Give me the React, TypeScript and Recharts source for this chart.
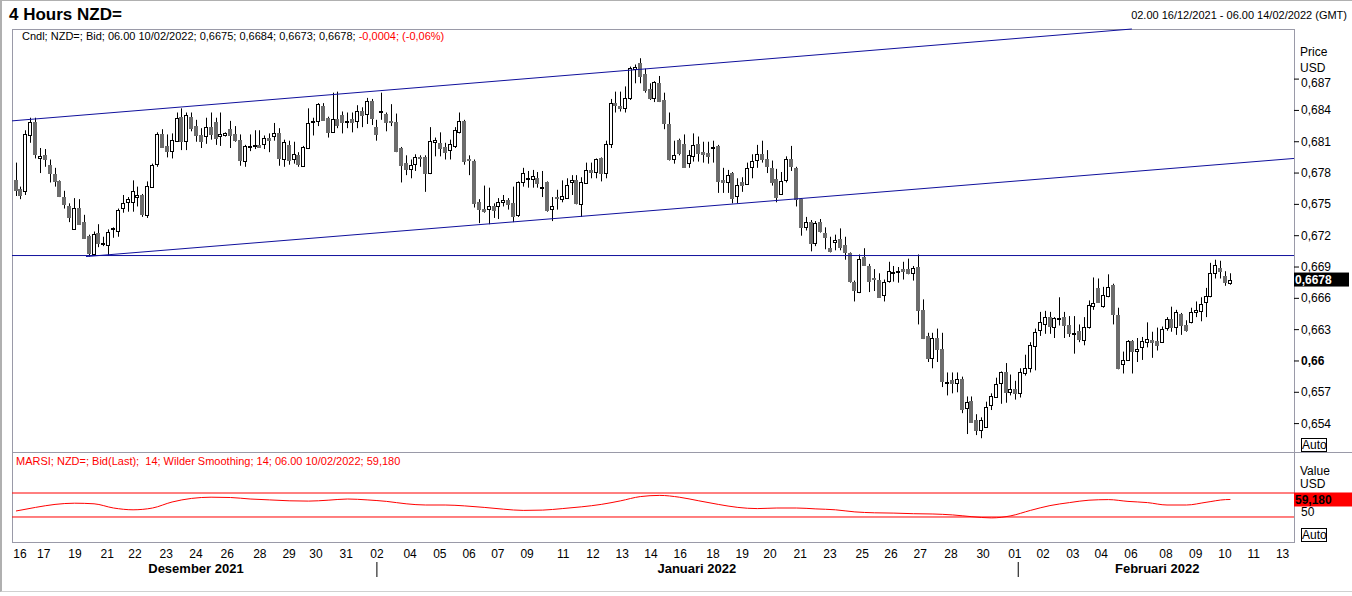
import React from 'react';
import { ComposedChart, LineChart, Bar, Line, XAxis, YAxis, ReferenceLine } from 'recharts';

// 4h candles, NZD= bid: [open, high, low, close]
const candles: [number, number, number, number][] = [
  [0.6773, 0.6790, 0.6758, 0.6763], [0.6765, 0.6767, 0.6755, 0.6759], [0.6762, 0.6821, 0.6759, 0.6817], [0.6817, 0.6833, 0.6809, 0.6829], [0.6829, 0.6833, 0.6794, 0.6798],
  [0.6794, 0.6804, 0.6780, 0.6796], [0.6797, 0.6803, 0.6786, 0.6793], [0.6788, 0.6793, 0.6771, 0.6780], [0.6779, 0.6785, 0.6767, 0.6772], [0.6772, 0.6773, 0.6757, 0.6758],
  [0.6757, 0.6763, 0.6746, 0.6750], [0.6748, 0.6751, 0.6733, 0.6737], [0.6727, 0.6756, 0.6726, 0.6747], [0.6747, 0.6755, 0.6731, 0.6732], [0.6733, 0.6740, 0.6717, 0.6718],
  [0.6720, 0.6721, 0.6700, 0.6704], [0.6703, 0.6724, 0.6702, 0.6722], [0.6723, 0.6731, 0.6709, 0.6713], [0.6712, 0.6719, 0.6710, 0.6713], [0.6712, 0.6726, 0.6701, 0.6724],
  [0.6726, 0.6728, 0.6718, 0.6727], [0.6725, 0.6746, 0.6719, 0.6745], [0.6746, 0.6759, 0.6742, 0.6751], [0.6752, 0.6757, 0.6743, 0.6755], [0.6752, 0.6773, 0.6743, 0.6763],
  [0.6757, 0.6767, 0.6748, 0.6759], [0.6759, 0.6760, 0.6738, 0.6741], [0.6740, 0.6772, 0.6737, 0.6768], [0.6767, 0.6789, 0.6766, 0.6788], [0.6788, 0.6819, 0.6786, 0.6817],
  [0.6817, 0.6822, 0.6804, 0.6805], [0.6806, 0.6817, 0.6795, 0.6801], [0.6801, 0.6818, 0.6794, 0.6812], [0.6811, 0.6838, 0.6810, 0.6833], [0.6834, 0.6842, 0.6802, 0.6811],
  [0.6811, 0.6838, 0.6802, 0.6836], [0.6834, 0.6838, 0.6820, 0.6823], [0.6825, 0.6831, 0.6810, 0.6816], [0.6816, 0.6823, 0.6804, 0.6810], [0.6815, 0.6833, 0.6808, 0.6824],
  [0.6824, 0.6838, 0.6812, 0.6817], [0.6829, 0.6833, 0.6807, 0.6814], [0.6815, 0.6838, 0.6806, 0.6817], [0.6816, 0.6819, 0.6815, 0.6818], [0.6822, 0.6830, 0.6804, 0.6816],
  [0.6817, 0.6825, 0.6810, 0.6811], [0.6812, 0.6817, 0.6787, 0.6793], [0.6792, 0.6807, 0.6786, 0.6806], [0.6806, 0.6817, 0.6801, 0.6806], [0.6806, 0.6821, 0.6803, 0.6807],
  [0.6807, 0.6821, 0.6804, 0.6805], [0.6808, 0.6816, 0.6803, 0.6814], [0.6814, 0.6818, 0.6800, 0.6812], [0.6815, 0.6828, 0.6811, 0.6818], [0.6818, 0.6823, 0.6787, 0.6794],
  [0.6794, 0.6812, 0.6786, 0.6810], [0.6807, 0.6811, 0.6788, 0.6793], [0.6793, 0.6810, 0.6789, 0.6798], [0.6797, 0.6800, 0.6786, 0.6788], [0.6787, 0.6806, 0.6786, 0.6805],
  [0.6804, 0.6842, 0.6803, 0.6828], [0.6829, 0.6833, 0.6816, 0.6830], [0.6830, 0.6847, 0.6825, 0.6846], [0.6844, 0.6847, 0.6830, 0.6831], [0.6833, 0.6834, 0.6814, 0.6820],
  [0.6820, 0.6857, 0.6819, 0.6832], [0.6832, 0.6858, 0.6823, 0.6826], [0.6836, 0.6839, 0.6818, 0.6829], [0.6830, 0.6838, 0.6823, 0.6830], [0.6832, 0.6838, 0.6819, 0.6829],
  [0.6829, 0.6845, 0.6823, 0.6839], [0.6839, 0.6843, 0.6824, 0.6835], [0.6837, 0.6852, 0.6827, 0.6849], [0.6849, 0.6851, 0.6826, 0.6833], [0.6824, 0.6831, 0.6811, 0.6817],
  [0.6838, 0.6857, 0.6831, 0.6839], [0.6837, 0.6838, 0.6820, 0.6829], [0.6830, 0.6846, 0.6825, 0.6829], [0.6829, 0.6837, 0.6800, 0.6801], [0.6804, 0.6805, 0.6771, 0.6788],
  [0.6790, 0.6797, 0.6778, 0.6784], [0.6784, 0.6793, 0.6775, 0.6788], [0.6788, 0.6798, 0.6782, 0.6795], [0.6795, 0.6797, 0.6786, 0.6794], [0.6795, 0.6797, 0.6762, 0.6780],
  [0.6780, 0.6824, 0.6779, 0.6811], [0.6810, 0.6814, 0.6796, 0.6812], [0.6809, 0.6819, 0.6796, 0.6804], [0.6805, 0.6809, 0.6793, 0.6800], [0.6802, 0.6812, 0.6793, 0.6808],
  [0.6806, 0.6824, 0.6804, 0.6821], [0.6819, 0.6838, 0.6818, 0.6830], [0.6830, 0.6831, 0.6788, 0.6792], [0.6793, 0.6797, 0.6778, 0.6792], [0.6792, 0.6793, 0.6747, 0.6752],
  [0.6752, 0.6755, 0.6732, 0.6745], [0.6746, 0.6768, 0.6742, 0.6744], [0.6745, 0.6766, 0.6731, 0.6748], [0.6748, 0.6751, 0.6737, 0.6744], [0.6748, 0.6756, 0.6736, 0.6752],
  [0.6752, 0.6759, 0.6748, 0.6754], [0.6754, 0.6756, 0.6745, 0.6750], [0.6751, 0.6767, 0.6733, 0.6739], [0.6739, 0.6772, 0.6738, 0.6771], [0.6771, 0.6785, 0.6767, 0.6780],
  [0.6775, 0.6782, 0.6766, 0.6775], [0.6774, 0.6783, 0.6766, 0.6777], [0.6775, 0.6781, 0.6766, 0.6770], [0.6767, 0.6782, 0.6757, 0.6767], [0.6771, 0.6772, 0.6743, 0.6744],
  [0.6745, 0.6757, 0.6734, 0.6748], [0.6757, 0.6764, 0.6745, 0.6756], [0.6755, 0.6773, 0.6752, 0.6758], [0.6757, 0.6775, 0.6756, 0.6769], [0.6771, 0.6778, 0.6759, 0.6773],
  [0.6773, 0.6778, 0.6750, 0.6751], [0.6750, 0.6776, 0.6738, 0.6771], [0.6771, 0.6790, 0.6770, 0.6783], [0.6783, 0.6790, 0.6775, 0.6781], [0.6781, 0.6794, 0.6775, 0.6793],
  [0.6794, 0.6795, 0.6772, 0.6780], [0.6780, 0.6811, 0.6775, 0.6808], [0.6808, 0.6851, 0.6804, 0.6847], [0.6847, 0.6858, 0.6838, 0.6845], [0.6844, 0.6858, 0.6839, 0.6842],
  [0.6842, 0.6863, 0.6838, 0.6852], [0.6852, 0.6882, 0.6850, 0.6881], [0.6880, 0.6884, 0.6866, 0.6882], [0.6885, 0.6890, 0.6866, 0.6873], [0.6875, 0.6880, 0.6857, 0.6860],
  [0.6861, 0.6866, 0.6850, 0.6852], [0.6852, 0.6868, 0.6848, 0.6867], [0.6866, 0.6873, 0.6848, 0.6849], [0.6850, 0.6857, 0.6822, 0.6828], [0.6827, 0.6838, 0.6792, 0.6793],
  [0.6793, 0.6811, 0.6789, 0.6797], [0.6812, 0.6813, 0.6797, 0.6800], [0.6808, 0.6817, 0.6785, 0.6786], [0.6789, 0.6802, 0.6785, 0.6797], [0.6796, 0.6818, 0.6791, 0.6807],
  [0.6808, 0.6815, 0.6791, 0.6799], [0.6800, 0.6810, 0.6790, 0.6798], [0.6799, 0.6810, 0.6789, 0.6796], [0.6805, 0.6811, 0.6790, 0.6805], [0.6806, 0.6807, 0.6761, 0.6772],
  [0.6773, 0.6785, 0.6761, 0.6771], [0.6771, 0.6783, 0.6761, 0.6778], [0.6780, 0.6781, 0.6751, 0.6756], [0.6758, 0.6775, 0.6751, 0.6769], [0.6771, 0.6776, 0.6762, 0.6768],
  [0.6770, 0.6790, 0.6769, 0.6785], [0.6786, 0.6798, 0.6775, 0.6792], [0.6792, 0.6807, 0.6785, 0.6798], [0.6798, 0.6811, 0.6790, 0.6793], [0.6793, 0.6802, 0.6780, 0.6786],
  [0.6785, 0.6792, 0.6768, 0.6772], [0.6774, 0.6784, 0.6752, 0.6757], [0.6760, 0.6781, 0.6759, 0.6772], [0.6773, 0.6796, 0.6771, 0.6793], [0.6793, 0.6806, 0.6782, 0.6786],
  [0.6785, 0.6786, 0.6748, 0.6755], [0.6755, 0.6756, 0.6720, 0.6728], [0.6728, 0.6738, 0.6725, 0.6733], [0.6733, 0.6735, 0.6705, 0.6713], [0.6713, 0.6734, 0.6710, 0.6732],
  [0.6733, 0.6736, 0.6723, 0.6724], [0.6723, 0.6728, 0.6707, 0.6719], [0.6708, 0.6719, 0.6704, 0.6705], [0.6714, 0.6721, 0.6706, 0.6716], [0.6717, 0.6727, 0.6706, 0.6709],
  [0.6711, 0.6719, 0.6697, 0.6704], [0.6703, 0.6704, 0.6675, 0.6676], [0.6676, 0.6677, 0.6657, 0.6668], [0.6666, 0.6702, 0.6665, 0.6698], [0.6700, 0.6708, 0.6691, 0.6692],
  [0.6691, 0.6693, 0.6666, 0.6677], [0.6679, 0.6688, 0.6667, 0.6678], [0.6678, 0.6684, 0.6661, 0.6662], [0.6664, 0.6678, 0.6657, 0.6676], [0.6676, 0.6695, 0.6675, 0.6686],
  [0.6685, 0.6691, 0.6676, 0.6685], [0.6685, 0.6690, 0.6675, 0.6686], [0.6688, 0.6695, 0.6678, 0.6686], [0.6688, 0.6698, 0.6683, 0.6684], [0.6684, 0.6691, 0.6677, 0.6689],
  [0.6690, 0.6702, 0.6635, 0.6649], [0.6649, 0.6659, 0.6621, 0.6622], [0.6624, 0.6627, 0.6599, 0.6603], [0.6603, 0.6627, 0.6593, 0.6622], [0.6622, 0.6631, 0.6599, 0.6611],
  [0.6611, 0.6627, 0.6575, 0.6580], [0.6580, 0.6589, 0.6567, 0.6580], [0.6582, 0.6589, 0.6569, 0.6579], [0.6579, 0.6589, 0.6570, 0.6583], [0.6583, 0.6585, 0.6550, 0.6554],
  [0.6555, 0.6566, 0.6530, 0.6561], [0.6562, 0.6566, 0.6541, 0.6542], [0.6543, 0.6549, 0.6529, 0.6533], [0.6533, 0.6546, 0.6526, 0.6543], [0.6537, 0.6561, 0.6536, 0.6556],
  [0.6557, 0.6569, 0.6553, 0.6566], [0.6566, 0.6584, 0.6565, 0.6578], [0.6578, 0.6590, 0.6559, 0.6589], [0.6589, 0.6598, 0.6560, 0.6570], [0.6570, 0.6587, 0.6567, 0.6573],
  [0.6573, 0.6581, 0.6563, 0.6569], [0.6569, 0.6593, 0.6565, 0.6589], [0.6588, 0.6606, 0.6586, 0.6593], [0.6593, 0.6618, 0.6589, 0.6615], [0.6615, 0.6631, 0.6591, 0.6628],
  [0.6629, 0.6647, 0.6624, 0.6637], [0.6635, 0.6648, 0.6626, 0.6642], [0.6642, 0.6647, 0.6626, 0.6633], [0.6632, 0.6642, 0.6622, 0.6641], [0.6641, 0.6661, 0.6634, 0.6641],
  [0.6642, 0.6647, 0.6622, 0.6634], [0.6634, 0.6643, 0.6623, 0.6626], [0.6627, 0.6643, 0.6607, 0.6627], [0.6629, 0.6635, 0.6618, 0.6621], [0.6621, 0.6642, 0.6615, 0.6633],
  [0.6633, 0.6658, 0.6631, 0.6654], [0.6653, 0.6680, 0.6649, 0.6656], [0.6670, 0.6679, 0.6656, 0.6657], [0.6652, 0.6671, 0.6651, 0.6663], [0.6662, 0.6683, 0.6661, 0.6671],
  [0.6673, 0.6674, 0.6635, 0.6645], [0.6644, 0.6651, 0.6592, 0.6593], [0.6597, 0.6609, 0.6588, 0.6601], [0.6601, 0.6620, 0.6600, 0.6619], [0.6619, 0.6620, 0.6588, 0.6609],
  [0.6609, 0.6622, 0.6599, 0.6611], [0.6613, 0.6623, 0.6601, 0.6619], [0.6618, 0.6637, 0.6613, 0.6621], [0.6620, 0.6628, 0.6603, 0.6618], [0.6619, 0.6632, 0.6610, 0.6615],
  [0.6619, 0.6633, 0.6618, 0.6631], [0.6631, 0.6642, 0.6629, 0.6640], [0.6640, 0.6652, 0.6628, 0.6632], [0.6633, 0.6649, 0.6625, 0.6647], [0.6645, 0.6646, 0.6625, 0.6634],
  [0.6634, 0.6639, 0.6628, 0.6629], [0.6637, 0.6651, 0.6636, 0.6647], [0.6647, 0.6657, 0.6642, 0.6649], [0.6648, 0.6661, 0.6638, 0.6655], [0.6656, 0.6670, 0.6642, 0.6662],
  [0.6662, 0.6694, 0.6661, 0.6684], [0.6684, 0.6697, 0.6679, 0.6692], [0.6689, 0.6696, 0.6679, 0.6686], [0.6681, 0.6686, 0.6672, 0.6675], [0.6675, 0.6684, 0.6673, 0.6678],
];

// day labels along the time axis, placed at candle index
const dayTicks = [0.8, 5.7, 12.1, 18.7, 24.4, 30.8, 36.9, 43.3, 50.0, 56.0, 61.5, 67.7, 74.0, 80.8, 86.9, 92.9, 98.8, 104.8, 112.2, 118.3, 124.3, 130.2, 136.2, 142.9, 148.9, 154.6, 160.8, 166.9, 173.5, 179.4, 185.4, 191.7, 198.3, 204.8, 210.6, 216.7, 222.5, 228.6, 235.8, 241.9, 247.9, 253.8, 259.7];
const dayLabels = ['16', '17', '19', '21', '22', '23', '24', '26', '28', '29', '30', '31', '02', '04', '05', '06', '07', '09', '11', '12', '13', '14', '16', '18', '19', '20', '21', '23', '25', '26', '27', '28', '30', '01', '02', '03', '04', '06', '08', '09', '10', '11', '13'];
// month names ('' = month boundary marker)
const monthTicks = [36.9, 74.0, 139.6, 205.5, 234.0];
const monthLabels = ['Desember 2021', '', 'Januari 2022', '', 'Februari 2022'];

const priceTicks = [0.654, 0.657, 0.66, 0.663, 0.666, 0.669, 0.672, 0.675, 0.678, 0.681, 0.684, 0.687];

// MARSI (14, Wilder smoothing) sampled along the candles
const rsiIdx = [0, 4, 8, 12, 16, 20, 24, 28, 32, 36, 40, 44, 48, 52, 56, 60, 64, 68, 72, 76, 80, 84, 88, 92, 96, 100, 104, 108, 112, 116, 120, 124, 128, 132, 136, 140, 144, 148, 152, 156, 160, 164, 168, 172, 176, 180, 184, 188, 192, 196, 200, 204, 208, 212, 216, 220, 224, 228, 232, 236, 240, 244, 248, 249];
const rsiVal = [40, 46, 51, 53, 52, 45, 42, 45, 55, 61, 63, 62.5, 60, 58.5, 57, 56.5, 58, 60, 58.5, 56, 52, 50, 50, 48.5, 46, 43, 41, 41.5, 44, 47, 51, 57, 64, 66, 63, 57, 51, 46, 44, 45, 45, 43.5, 42, 38.5, 37, 36.5, 35.5, 35, 33.5, 30.5, 28.5, 32, 41, 49, 54, 58, 59, 56, 54, 50, 50, 54.5, 59, 59.18];
const rsiBands = [70, 30];

// drawn trend lines
const upperChannel = [{ x: -0.82, y: 0.683 }, { x: 228.8, y: 0.6918 }];
const lowerChannel = [{ x: 14.35, y: 0.67 }, { x: 262.04, y: 0.6794 }];
const resistance = 0.6701;

const FONT = '"Liberation Sans", Arial, sans-serif';
const X_DOMAIN: [number, number] = [-0.82, 262.04];
const PRICE_DOMAIN: [number, number] = [0.65128, 0.6918];
const RSI_DOMAIN: [number, number] = [-11.67, 136.67];
const LINE_BLUE = '#10109c';
const RED = '#ff0000';
const FRAME = '#9a9aa8';

const rows = candles.map(([o, h, l, c], i) => ({ i, o, h, l, c, range: [l, h] }));
const rsiRows = rsiIdx.map((i, k) => ({ i, v: rsiVal[k] }));
const last = candles[candles.length - 1];
const lastRsi = rsiVal[rsiVal.length - 1];
const dayLabelOf = new Map(dayTicks.map((t, k) => [t, dayLabels[k]]));

const comma = (v: number, digits?: number) =>
  (digits == null ? String(v) : v.toFixed(digits)).replace('.', ',');

const Candle = (props: any) => {
  const { x, y, width, height, payload } = props;
  if (x == null || payload == null) return null;
  const { o, h, l, c } = payload;
  const top = Math.min(y, y + height);
  const span = Math.abs(height);
  const k = h > l ? span / (h - l) : 0;
  const cx = Math.round(x + width / 2) + 0.5;
  const yo = top + (h - o) * k;
  const yc = top + (h - c) * k;
  const bTop = Math.round(Math.min(yo, yc));
  const bH = Math.max(Math.round(Math.abs(yo - yc)), 1);
  const up = c >= o;
  return (
    <g>
      <line x1={cx} x2={cx} y1={top} y2={top + span} stroke="#000" strokeWidth={1} />
      {up ? (
        <rect x={cx - 2} y={bTop + 0.5} width={3} height={bH} fill="#fff" stroke="#000" strokeWidth={1} />
      ) : (
        <rect x={cx - 2.5} y={bTop} width={4} height={bH + 1} fill="#6c6c6c" />
      )}
    </g>
  );
};

const PriceTick = (props: any) => {
  const { x, y, payload } = props;
  const v = payload.value;
  const bold = Math.abs(v - 0.66) < 1e-9;
  const dy = v === priceTicks[priceTicks.length - 1] ? 8 : 4;
  return (
    <text x={x} y={y} dy={dy} fontSize={12} fontFamily={FONT} fontWeight={bold ? 'bold' : 'normal'} fill="#000" textAnchor="start">
      {comma(v)}
    </text>
  );
};

const RsiTick = (props: any) => {
  const { x, y, payload } = props;
  return (
    <text x={x} y={y} dy={11} fontSize={12} fontFamily={FONT} fill="#000" textAnchor="start">
      {payload.value}
    </text>
  );
};

const MonthTick = (props: any) => {
  const { x, y, index } = props;
  const label = monthLabels[index];
  if (!label) return <line x1={x} x2={x} y1={y + 4} y2={y + 19} stroke="#000" strokeWidth={1} />;
  return (
    <text x={x} y={y + 15} fontSize={13} fontWeight="bold" fontFamily={FONT} fill="#000" textAnchor="middle">
      {label}
    </text>
  );
};

const ValueTag = (props: any) => {
  const { viewBox, text, bg, fg, w } = props;
  if (!viewBox) return null;
  const left = viewBox.x + viewBox.width;
  return (
    <g>
      <rect x={left} y={viewBox.y - 7} width={w} height={14} fill={bg} />
      <text x={left + 1} y={viewBox.y + 4.5} fontSize={12} fontWeight="bold" fontFamily={FONT} fill={fg}>
        {text}
      </text>
    </g>
  );
};

const Txt = ({ x, y, size = 12, color = '#000', bold = false, children }: any) => (
  <div
    style={{
      position: 'absolute', left: x, top: y - Math.round(size * 0.6), fontSize: size, lineHeight: `${Math.round(size * 1.2)}px`,
      fontFamily: FONT, fontWeight: bold ? 'bold' : 'normal', color, whiteSpace: 'pre',
    }}
  >
    {children}
  </div>
);

const AutoBox = ({ top }: { top: number }) => (
  <div
    style={{
      position: 'absolute', left: 1301, top, width: 26, height: 14, boxSizing: 'border-box', border: '1px solid #000',
      fontSize: 12, lineHeight: '12px', fontFamily: FONT, textAlign: 'center', background: '#fff',
    }}
  >
    Auto
  </div>
);

export default function App() {
  return (
    <div style={{ position: 'absolute', left: 0, top: 0, width: 1352, height: 596, background: '#fff', overflow: 'hidden' }}>
      <div style={{ position: 'absolute', left: 0, top: 0, width: 1352, height: 592, boxSizing: 'border-box', borderTop: '1px solid #b0b0b0', borderLeft: '2px solid #b0b0b0', borderBottom: '1px solid #d0d0d0' }} />
      <div style={{ position: 'absolute', left: 12, top: 29, width: 1283, height: 514, boxSizing: 'border-box', border: `1px solid ${FRAME}` }} />
      <div style={{ position: 'absolute', left: 12, top: 452, width: 1340, height: 1, background: FRAME }} />

      <Txt x={9} y={15} size={17} bold>4 Hours NZD=</Txt>
      <div style={{ position: 'absolute', right: 5, top: 9, fontSize: 11, lineHeight: '13px', fontFamily: FONT, color: '#000' }}>
        02.00 16/12/2021 - 06.00 14/02/2022 (GMT)
      </div>
      <Txt x={22} y={37} size={11}>
        {'Cndl; NZD=; Bid; 06.00 10/02/2022; 0,6675; 0,6684; 0,6673; 0,6678; '}
        <span style={{ color: RED }}>-0,0004; (-0,06%)</span>
      </Txt>
      <Txt x={16} y={462} size={11} color={RED}>
        {'MARSI; NZD=; Bid(Last);  14; Wilder Smoothing; 14; 06.00 10/02/2022; 59,180'}
      </Txt>
      <Txt x={1300} y={52}>Price</Txt>
      <Txt x={1300} y={68}>USD</Txt>
      <Txt x={1300} y={471}>Value</Txt>
      <Txt x={1300} y={484}>USD</Txt>
      <AutoBox top={438} />
      <AutoBox top={528} />

      <div style={{ position: 'absolute', left: 0, top: 0 }}>
        <ComposedChart width={1352} height={452} data={rows} margin={{ top: 29, right: 0, bottom: 0, left: 12 }}>
          <XAxis dataKey="i" type="number" domain={X_DOMAIN} allowDataOverflow hide />
          <YAxis
            orientation="right"
            width={58}
            domain={PRICE_DOMAIN}
            ticks={priceTicks}
            interval={0}
            allowDataOverflow
            axisLine={false}
            tickLine={{ stroke: '#000' }}
            tickSize={5}
            tickMargin={2}
            tick={<PriceTick />}
          />
          <ReferenceLine y={resistance} stroke={LINE_BLUE} ifOverflow="visible" />
          <ReferenceLine segment={upperChannel} stroke={LINE_BLUE} ifOverflow="visible" />
          <ReferenceLine segment={lowerChannel} stroke={LINE_BLUE} ifOverflow="visible" />
          <Bar dataKey="range" barSize={4} shape={<Candle />} isAnimationActive={false} />
          <ReferenceLine
            y={last[3]}
            stroke="none"
            ifOverflow="visible"
            label={<ValueTag text={comma(last[3], 4)} bg="#000" fg="#fff" w={55} />}
          />
        </ComposedChart>
      </div>

      <div style={{ position: 'absolute', left: 0, top: 452 }}>
        <LineChart width={1352} height={126} data={rsiRows} margin={{ top: 1, right: 0, bottom: 0, left: 12 }}>
          <XAxis
            dataKey="i"
            type="number"
            domain={X_DOMAIN}
            allowDataOverflow
            ticks={dayTicks}
            interval={0}
            axisLine={false}
            tickLine={false}
            tickSize={6}
            tickMargin={1}
            height={16}
            tickFormatter={(v: number) => dayLabelOf.get(v) ?? ''}
            tick={{ fontSize: 12, fill: '#000', fontFamily: FONT }}
          />
          <XAxis
            xAxisId="month"
            dataKey="i"
            type="number"
            domain={X_DOMAIN}
            allowDataOverflow
            ticks={monthTicks}
            interval={0}
            axisLine={false}
            tickLine={false}
            tickSize={0}
            tickMargin={0}
            height={20}
            tick={<MonthTick />}
          />
          <YAxis
            orientation="right"
            width={58}
            domain={RSI_DOMAIN}
            ticks={[50]}
            allowDataOverflow
            axisLine={false}
            tickLine={false}
            tickSize={5}
            tickMargin={2}
            tick={<RsiTick />}
          />
          {rsiBands.map((b) => (
            <ReferenceLine key={b} y={b} stroke={RED} ifOverflow="visible" />
          ))}
          <Line dataKey="v" type="monotone" stroke={RED} strokeWidth={1} dot={false} isAnimationActive={false} />
          <Line xAxisId="month" dataKey="v" stroke="none" dot={false} activeDot={false} isAnimationActive={false} />
          <ReferenceLine
            y={lastRsi}
            stroke="none"
            ifOverflow="visible"
            label={<ValueTag text={comma(lastRsi, 3)} bg={RED} fg="#000" w={58} />}
          />
        </LineChart>
      </div>
    </div>
  );
}
